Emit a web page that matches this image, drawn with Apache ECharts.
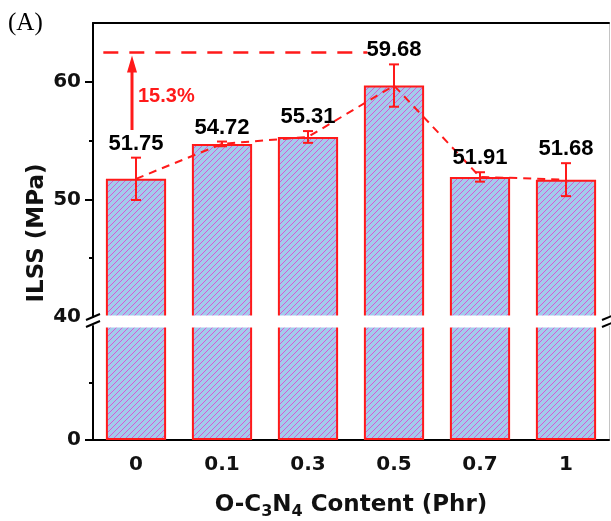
<!DOCTYPE html>
<html>
<head>
<meta charset="utf-8">
<script src="https://cdn.jsdelivr.net/npm/echarts@6/dist/echarts.min.js"></script>
<style>
  html, body { margin: 0; padding: 0; background: #fff; }
  #chart { width: 611px; height: 521px; }
</style>
</head>
<body>
<div id="chart"></div>
<script>
// data
const categories = ['0', '0.1', '0.3', '0.5', '0.7', '1']
const ilss = [51.75, 54.72, 55.31, 59.68, 51.91, 51.68]
const ilssErr = [1.8, 0.2, 0.5, 1.8, 0.4, 1.4]

// broken y axis: lower part 0-40, upper part 40-65
const upperRange = [40, 65]
const lowerRange = [0, 40]
const upperLabels = [40, 50, 60]
const upperMajorTicks = [50, 60]
const upperMinorTicks = [45, 55]
const lowerLabels = [0]
const lowerMinorTicks = [20]

// "15.3%" annotation
const targetLevel = 62.5
const arrowBase = 55.9
const increaseText = '15.3%'

const RED = '#ff1a1a'
const INK = '#000'

const makeHatch = () => {
  const c = document.createElement('canvas')
  c.width = 6
  c.height = 6
  const ctx = c.getContext('2d')
  ctx.fillStyle = '#a3cbec'
  ctx.fillRect(0, 0, 6, 6)
  ctx.strokeStyle = '#d45ad4'
  ctx.lineWidth = 1
  ctx.beginPath()
  ctx.moveTo(-1, 7); ctx.lineTo(7, -1)
  ctx.moveTo(-1, 1); ctx.lineTo(1, -1)
  ctx.moveTo(5, 7); ctx.lineTo(7, 5)
  ctx.stroke()
  return c
}

const hatch = { image: makeHatch(), repeat: 'repeat' }
const tickFont = { fontFamily: 'DejaVu Sans', fontWeight: 'bold', fontSize: 20, color: '#111' }
const blackLine = { color: '#000', width: 2 }

const chart = echarts.init(document.getElementById('chart'))

const option = {
  animation: false,
  grid: [
    { left: 93, right: 2, top: 23, height: 294 },
    { left: 93, right: 2, top: 326, height: 116 }
  ],
  xAxis: [
    {
      gridIndex: 0, type: 'category', data: categories, position: 'top',
      axisLine: { onZero: false, lineStyle: blackLine },
      axisTick: { show: false }, axisLabel: { show: false }
    },
    {
      gridIndex: 1, type: 'category', data: categories, position: 'bottom',
      axisLine: { onZero: false, lineStyle: blackLine },
      axisTick: { alignWithLabel: true, length: 7, lineStyle: blackLine },
      axisLabel: { ...tickFont, margin: 15 },
      name: '{m|O-C}{s|3}{m|N}{s|4}{m| Content (Phr)}',
      nameLocation: 'middle',
      nameGap: 50,
      nameTextStyle: {
        rich: {
          m: { fontFamily: 'DejaVu Sans', fontWeight: 'bold', fontSize: 23, lineHeight: 30, color: '#111', verticalAlign: 'middle' },
          s: { fontFamily: 'DejaVu Sans', fontWeight: 'bold', fontSize: 16, lineHeight: 16, color: '#111', verticalAlign: 'bottom' }
        }
      }
    },
    {
      gridIndex: 1, type: 'category', data: categories, position: 'bottom',
      axisLine: { show: false, onZero: false },
      axisTick: { interval: 0, length: 4, lineStyle: blackLine },
      axisLabel: { show: false }
    }
  ],
  yAxis: [
    {
      gridIndex: 0, type: 'value', min: upperRange[0], max: upperRange[1], position: 'left',
      axisLine: { show: true, lineStyle: blackLine },
      axisTick: { show: true, length: 8, lineStyle: blackLine, customValues: upperMajorTicks },
      axisLabel: { ...tickFont, margin: 12, customValues: upperLabels },
      splitLine: { show: false }
    },
    {
      gridIndex: 0, type: 'value', min: upperRange[0], max: upperRange[1], position: 'left',
      axisLine: { show: false },
      axisTick: { show: true, length: 4, lineStyle: blackLine, customValues: upperMinorTicks },
      axisLabel: { show: false },
      splitLine: { show: false }
    },
    {
      gridIndex: 1, type: 'value', min: lowerRange[0], max: lowerRange[1], position: 'left',
      axisLine: { show: true, lineStyle: blackLine },
      axisTick: { show: true, length: 8, lineStyle: blackLine, customValues: lowerLabels },
      axisLabel: { ...tickFont, margin: 12, customValues: lowerLabels },
      splitLine: { show: false }
    },
    {
      gridIndex: 1, type: 'value', min: lowerRange[0], max: lowerRange[1], position: 'left',
      axisLine: { show: false },
      axisTick: { show: true, length: 4, lineStyle: blackLine, customValues: lowerMinorTicks },
      axisLabel: { show: false },
      splitLine: { show: false }
    },
    {
      gridIndex: 0, type: 'value', min: upperRange[0], max: upperRange[1], position: 'right',
      axisLine: { show: true, lineStyle: { color: '#c4c4c4', width: 1 } },
      axisTick: { show: false }, axisLabel: { show: false }, splitLine: { show: false }
    },
    {
      gridIndex: 1, type: 'value', min: lowerRange[0], max: lowerRange[1], position: 'right',
      axisLine: { show: true, lineStyle: { color: '#c4c4c4', width: 1 } },
      axisTick: { show: false }, axisLabel: { show: false }, splitLine: { show: false }
    }
  ],
  series: [
    {
      type: 'bar', xAxisIndex: 0, yAxisIndex: 0, data: ilss, barWidth: '70%',
      itemStyle: { color: hatch, borderColor: RED, borderWidth: 2 }
    },
    {
      type: 'bar', xAxisIndex: 1, yAxisIndex: 2, data: ilss, barWidth: '70%', clip: true,
      itemStyle: { color: hatch, borderColor: RED, borderWidth: 2 }
    },
    {
      type: 'line', xAxisIndex: 0, yAxisIndex: 0, data: ilss, symbol: 'none', z: 3,
      lineStyle: { color: RED, width: 2, type: [8, 6] }
    },
    {
      // error bars + value labels
      type: 'custom', xAxisIndex: 0, yAxisIndex: 0, z: 5,
      data: ilss.map((v, i) => [i, v - ilssErr[i], v + ilssErr[i], v]),
      encode: { x: 0, y: [1, 2] },
      renderItem: (params, api) => {
        const i = api.value(0)
        const lo = api.coord([i, api.value(1)])
        const hi = api.coord([i, api.value(2)])
        const cap = 5
        const style = { stroke: RED, lineWidth: 2 }
        return {
          type: 'group',
          children: [
            { type: 'line', shape: { x1: lo[0], y1: lo[1], x2: hi[0], y2: hi[1] }, style },
            { type: 'line', shape: { x1: hi[0] - cap, y1: hi[1], x2: hi[0] + cap, y2: hi[1] }, style },
            { type: 'line', shape: { x1: lo[0] - cap, y1: lo[1], x2: lo[0] + cap, y2: lo[1] }, style },
            {
              type: 'text', x: hi[0], y: hi[1] - 3,
              style: {
                text: api.value(3).toFixed(2), fill: INK, align: 'center', verticalAlign: 'bottom',
                font: 'bold 22px "Liberation Sans", Arial, sans-serif'
              }
            }
          ]
        }
      }
    },
    {
      // 15.3% increase annotation
      type: 'custom', xAxisIndex: 0, yAxisIndex: 0, z: 6,
      data: [[0, arrowBase, targetLevel, 3]],
      encode: { x: 0, y: [1, 2] },
      renderItem: (params, api) => {
        const bandW = api.size([1, 0])[0]
        const start = api.coord([api.value(0), api.value(2)])
        const end = api.coord([api.value(3), api.value(2)])
        const base = api.coord([api.value(0), api.value(1)])
        const ax = start[0] - 4
        const tipY = start[1] + 3
        return {
          type: 'group',
          children: [
            {
              type: 'line',
              shape: { x1: start[0] - bandW * 0.38, y1: start[1], x2: end[0] - bandW * 0.31, y2: end[1] },
              style: { stroke: RED, lineWidth: 2.5, lineDash: [15, 11] }
            },
            { type: 'line', shape: { x1: ax, y1: base[1], x2: ax, y2: tipY + 14 }, style: { stroke: RED, lineWidth: 3 } },
            {
              type: 'polygon',
              shape: { points: [[ax, tipY], [ax - 5, tipY + 17], [ax + 5, tipY + 17]] },
              style: { fill: RED }
            },
            {
              type: 'text', x: ax + 6, y: (base[1] + tipY) / 2 + 4,
              style: {
                text: increaseText, fill: RED, align: 'left', verticalAlign: 'middle',
                font: 'bold 20px "Liberation Sans", Arial, sans-serif'
              }
            }
          ]
        }
      }
    }
  ],
  graphic: [
    // white gap of the axis break
    { type: 'rect', z: 50, shape: { x: 95, y: 315.5, width: 512, height: 12 }, style: { fill: '#fff' } },
    { type: 'rect', z: 50, shape: { x: 86, y: 318, width: 14, height: 5 }, style: { fill: '#fff' } },
    { type: 'line', z: 51, shape: { x1: 86, y1: 320, x2: 100, y2: 314 }, style: { stroke: '#000', lineWidth: 2 } },
    { type: 'line', z: 51, shape: { x1: 86, y1: 327, x2: 100, y2: 321 }, style: { stroke: '#000', lineWidth: 2 } },
    { type: 'line', z: 51, shape: { x1: 602, y1: 320, x2: 614, y2: 315 }, style: { stroke: '#000', lineWidth: 2 } },
    { type: 'line', z: 51, shape: { x1: 602, y1: 327, x2: 614, y2: 322 }, style: { stroke: '#000', lineWidth: 2 } },
    {
      type: 'text', z: 51, left: 8, top: 11,
      style: { text: '(A)', fill: '#000', font: '25px "Liberation Serif", "Times New Roman", serif' }
    },
    {
      type: 'text', z: 51, x: 37, y: 233, rotation: Math.PI / 2,
      style: {
        text: 'ILSS (MPa)', fill: '#111', align: 'center', verticalAlign: 'middle',
        font: 'bold 23px "DejaVu Sans", sans-serif'
      }
    }
  ]
}

chart.setOption(option)
</script>
</body>
</html>
